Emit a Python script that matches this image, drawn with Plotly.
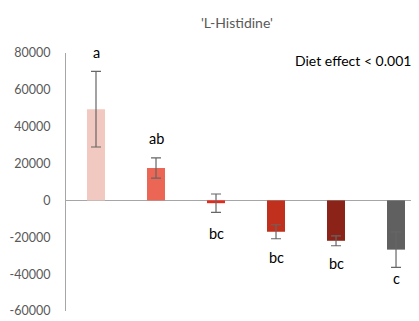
import plotly.graph_objects as go

categories = ["D1", "D2", "D3", "D4", "D5", "D6"]
values = [49500, 17600, -1500, -17000, -21900, -26700]
errors = [20500, 5500, 5000, 3800, 2700, 9600]
letters = ["a", "ab", "bc", "bc", "bc", "c"]
colors = ["#f2c9c1", "#ec6656", "#e8281a", "#c0301d", "#8c2318", "#606060"]
y_ticks = [-60000, -40000, -20000, 0, 20000, 40000, 60000, 80000]

FONT = "Lato"
xs = list(range(len(categories)))

fig = go.Figure()
fig.add_trace(go.Bar(
    x=xs, y=values, width=0.3,
    marker=dict(color=colors, line=dict(width=0)),
    error_y=dict(type="data", array=errors, visible=True,
                 color="#666666", thickness=1.2, width=5),
    showlegend=False,
))

shifts = [19, 19, -21, -19, -18, -11]
annotations = []
for i, (v, e, t) in enumerate(zip(values, errors, letters)):
    end = v + e if v >= 0 else v - e
    annotations.append(dict(
        x=xs[i], y=end, text=t, showarrow=False, xref="x", yref="y",
        yshift=shifts[i], font=dict(family=FONT, size=14.5, color="#000000"),
        xanchor="center", yanchor="middle"))

annotations.append(dict(
    x=1, y=1, xref="paper", yref="paper", text="Diet effect < 0.001",
    showarrow=False, xanchor="right", yanchor="middle", xshift=-6, yshift=-7,
    font=dict(family=FONT, size=14, color="#000000")))
annotations.append(dict(
    x=0.5, y=1, xref="paper", yref="paper", text="'L-Histidine'",
    showarrow=False, xanchor="center", yanchor="middle", xshift=-6, yshift=31,
    font=dict(family=FONT, size=14, color="#595959")))

fig.update_layout(
    width=411, height=313,
    margin=dict(l=58, r=0, t=45, b=10, autoexpand=False),
    paper_bgcolor="white", plot_bgcolor="white",
    annotations=annotations,
    xaxis=dict(range=[-0.5, 5.383], showticklabels=False, showgrid=False,
               zeroline=False, showline=False, ticks=""),
    yaxis=dict(range=[-60000, 80000], tickvals=y_ticks,
               ticktext=[str(t) for t in y_ticks], showgrid=False,
               showline=True, linecolor="#a6a6a6", linewidth=1,
               zeroline=True, zerolinecolor="#a6a6a6", zerolinewidth=1,
               ticks="", ticklabelstandoff=12,
               tickfont=dict(family=FONT, size=12.5, color="#595959")),
)

fig.write_html("out.html")
